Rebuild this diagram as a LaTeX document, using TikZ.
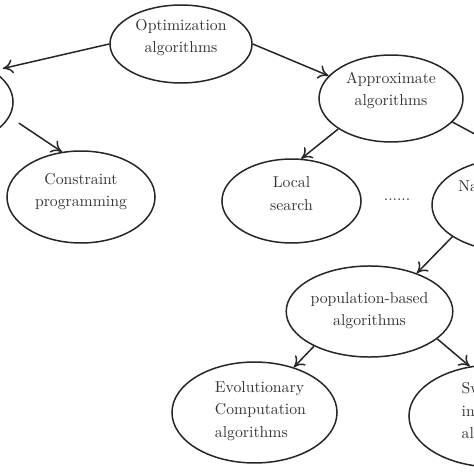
\documentclass[tikz,border=0pt]{standalone}
\usetikzlibrary{shapes.geometric,arrows.meta}
\begin{document}
\begin{tikzpicture}[x=0.635pt,y=-0.635pt,
  ell/.style={ellipse, draw=black!85, line width=0.95pt, inner sep=0pt, align=center,
    text=black!80, font=\fontsize{10}{14}\selectfont},
  arr/.style={draw=black!85, line width=0.95pt, -{To[length=6.5pt,width=9pt]}},
  dotsnode/.style={inner sep=0pt, text=black!80, font=\fontsize{10}{14}\selectfont}]
\useasboundingbox (0,0) rectangle (474,474);
\clip (0,0) rectangle (474,474);
\newcommand{\indt}{\hspace*{7.6pt}}
\node[ell, minimum width=90.2pt, minimum height=49.5pt, text depth=10.2pt] (opt) at (181,44) {Optimization\\algorithms};
\node[ell, minimum width=86.4pt, minimum height=54.6pt] (exact) at (-55,102) {};
\node[ell, minimum width=94pt, minimum height=58.4pt, text depth=8.9pt] (cons) at (81,197) {Constraint\\programming};
\node[ell, minimum width=91.4pt, minimum height=55.2pt, text depth=12.1pt] (approx) at (391,98.5) {Approximate\\algorithms};
\node[ell, minimum width=88.3pt, minimum height=53.3pt, text depth=9.5pt] (local) at (291.5,201) {Local\\search};
\node[dotsnode] (dots) at (397,200) {......};
\node[ell, minimum width=101.6pt, minimum height=59pt, text depth=9.6pt] (nature) at (512,205) {Nature-inspired\\algorithms};
\node[ell, minimum width=92.1pt, minimum height=57.8pt, text depth=3.2pt] (pop) at (369.5,311.5) {population-based\\algorithms};
\node[ell, align=left, minimum width=104.8pt, minimum height=64.1pt, text depth=3.8pt] (evol) at (254.5,412.5) {\indt Evolutionary\\\indt Computation\\\indt algorithms};
\node[ell, align=left, minimum width=108pt, minimum height=64.8pt, text depth=7pt] (swarm) at (494,416) {\indt Swarm\\\indt intelligence\\\indt algorithms};
\draw[arr, shorten >=6.3pt] (opt.west) -- (exact.33);
\draw[arr, shorten <=7pt] (exact.-13) -- (cons.113);
\draw[arr] (opt.east) -- (approx.160.7);
\draw[arr] (approx.210) -- (local.77);
\draw[arr] (approx.-21.5) -- (nature.81);
\draw[arr] (nature.208) -- (pop.39);
\draw[arr] (pop.212.5) -- (evol.49.8);
\draw[arr] (pop.-22) -- (swarm.116);
\end{tikzpicture}
\end{document}
